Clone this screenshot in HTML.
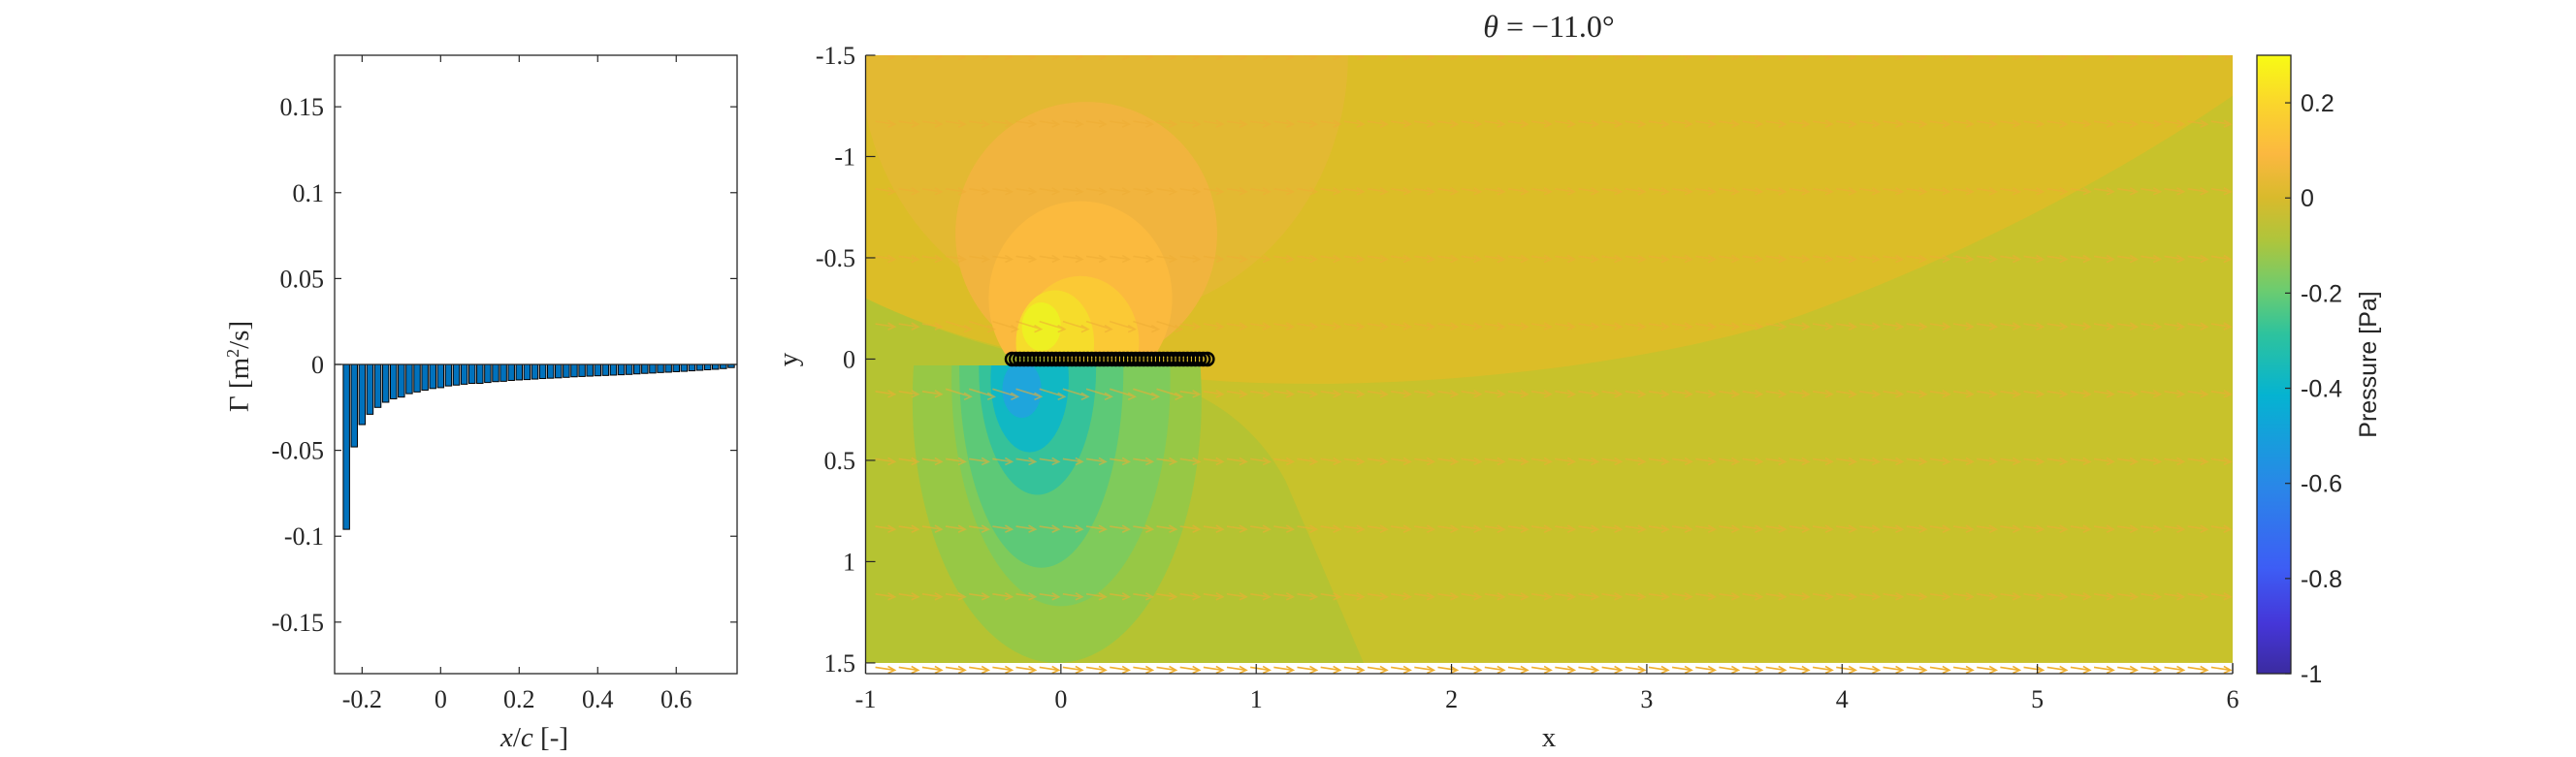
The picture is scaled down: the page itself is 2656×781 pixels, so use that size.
<!DOCTYPE html>
<html><head><meta charset="utf-8"><style>
html,body{margin:0;padding:0;background:#fff;}
svg{display:block;}
.serif{font-family:"Liberation Serif",serif;fill:#262626;}
.sans{font-family:"Liberation Sans",sans-serif;fill:#262626;}
</style></head><body>
<svg id="fig" width="2656" height="781" viewBox="0 0 2656 781" xmlns="http://www.w3.org/2000/svg">
<defs>
<linearGradient id="parula" x1="0" y1="1" x2="0" y2="0">
<stop offset="0" stop-color="#3b2ba0"/>
<stop offset="0.08" stop-color="#4536d8"/>
<stop offset="0.17" stop-color="#3d5df5"/>
<stop offset="0.3" stop-color="#2a86e8"/>
<stop offset="0.45" stop-color="#05b3d1"/>
<stop offset="0.55" stop-color="#2ec39d"/>
<stop offset="0.62" stop-color="#6ccc70"/>
<stop offset="0.7" stop-color="#aec53c"/>
<stop offset="0.77" stop-color="#d9ba2c"/>
<stop offset="0.84" stop-color="#fbb840"/>
<stop offset="0.92" stop-color="#fad52c"/>
<stop offset="1" stop-color="#f8fb14"/>
</linearGradient>
<clipPath id="fieldclip"><rect x="892.5" y="57" width="1409.5" height="627"/></clipPath>
<clipPath id="upperclip"><rect x="892.5" y="57" width="1409.5" height="308"/></clipPath>
<clipPath id="lowerclip"><rect x="892.5" y="377" width="1409.5" height="307"/></clipPath>
<clipPath id="stripclip"><rect x="892.5" y="684" width="1409.5" height="11"/></clipPath>
</defs>
<g id="left"></g>
<g id="right"></g>
<g id="cbar"></g>
</svg>
<script>
// ---------- Left bar chart data ----------
const barX = [];
for (let i = 0; i < 50; i++) barX.push(+(-0.24 + 0.02 * i).toFixed(2));
const gammaValues = [-0.096,-0.048,-0.035,-0.029,-0.025,-0.022,-0.020,-0.019,-0.017,-0.016,
 -0.015,-0.014,-0.0135,-0.0125,-0.012,-0.0115,-0.011,-0.011,-0.0105,-0.010,
 -0.0098,-0.0093,-0.009,-0.0088,-0.0085,-0.0082,-0.008,-0.0078,-0.0075,-0.0072,
 -0.007,-0.0068,-0.0066,-0.0064,-0.0062,-0.006,-0.0058,-0.0055,-0.0052,-0.005,
 -0.0047,-0.0045,-0.0042,-0.004,-0.0037,-0.0034,-0.0031,-0.0028,-0.0024,-0.0018];
const leftYTicks = [-0.15,-0.1,-0.05,0,0.05,0.1,0.15];
const leftYTickLabels = ["-0.15","-0.1","-0.05","0","0.05","0.1","0.15"];
const leftXTicks = [-0.2,0,0.2,0.4,0.6];
const leftXTickLabels = ["-0.2","0","0.2","0.4","0.6"];

// ---------- Right contour axes ----------
const rightXTicks = [-1,0,1,2,3,4,5,6];
const rightXTickLabels = ["-1","0","1","2","3","4","5","6"];
const rightYTicks = [-1.5,-1,-0.5,0,0.5,1,1.5];
const rightYTickLabels = ["-1.5","-1","-0.5","0","0.5","1","1.5"];
const airfoilX = [];
for (let i = 0; i < 50; i++) airfoilX.push(-0.25 + i * (1.0 / 49));
const arrowRowsY = [-1.5,-1.1667,-0.8333,-0.5,-0.1667,0.1667,0.5,0.8333,1.1667,1.5];

// ---------- Colorbar ----------
const cbarTicks = [-1,-0.8,-0.6,-0.4,-0.2,0,0.2];
const cbarTickLabels = ["-1","-0.8","-0.6","-0.4","-0.2","0","0.2"];

const NS = "http://www.w3.org/2000/svg";
function mk(tag, attrs, parent) {
  const e = document.createElementNS(NS, tag);
  for (const k in attrs) e.setAttribute(k, attrs[k]);
  parent.appendChild(e);
  return e;
}

// ===== Left chart =====
const L = {x0:345, x1:760, y0:57, y1:695, xmin:-0.27, xmax:0.755, ymin:-0.18, ymax:0.18};
const lx = v => L.x0 + (v - L.xmin) / (L.xmax - L.xmin) * (L.x1 - L.x0);
const ly = v => L.y1 - (v - L.ymin) / (L.ymax - L.ymin) * (L.y1 - L.y0);
const gL = document.getElementById('left');


let bg = mk('rect', {x:L.x0, y:L.y0, width:L.x1-L.x0, height:L.y1-L.y0, fill:'#fff'}, gL);


barX.forEach((xv, i) => {
  const v = gammaValues[i];
  const xa = lx(xv - 0.008), xb = lx(xv + 0.008);
  const ya = ly(Math.max(0, v)), yb = ly(Math.min(0, v));
  const r = mk('rect', {x:xa, y:ya, width:xb-xa, height:Math.max(0.5, yb-ya), fill:'#0072bd', stroke:'#000', 'stroke-width':1}, gL);
  
  
});
mk('line', {x1:L.x0, x2:L.x1, y1:ly(0), y2:ly(0), stroke:'#262626', 'stroke-width':1.3}, gL);
let box = mk('rect', {x:L.x0, y:L.y0, width:L.x1-L.x0, height:L.y1-L.y0, fill:'none', stroke:'#262626', 'stroke-width':1.3}, gL);


leftYTicks.forEach((t, i) => {
  const y = ly(t);
  mk('line', {x1:L.x0, x2:L.x0+7, y1:y, y2:y, stroke:'#262626', 'stroke-width':1.2}, gL);
  mk('line', {x1:L.x1, x2:L.x1-7, y1:y, y2:y, stroke:'#262626', 'stroke-width':1.2}, gL);
  const tx = mk('text', {x:L.x0-11, y:y+9, 'text-anchor':'end', 'font-size':26, class:'serif'}, gL);
  tx.textContent = leftYTickLabels[i];
  
  
});
leftXTicks.forEach((t, i) => {
  const x = lx(t);
  mk('line', {x1:x, x2:x, y1:L.y1, y2:L.y1-7, stroke:'#262626', 'stroke-width':1.2}, gL);
  mk('line', {x1:x, x2:x, y1:L.y0, y2:L.y0+7, stroke:'#262626', 'stroke-width':1.2}, gL);
  const tx = mk('text', {x:x, y:730, 'text-anchor':'middle', 'font-size':26, class:'serif'}, gL);
  tx.textContent = leftXTickLabels[i];
  
  
});
let xl = mk('text', {x:551, y:770, 'text-anchor':'middle', 'font-size':29, class:'serif'}, gL);
xl.innerHTML = '<tspan font-style="italic">x</tspan>/<tspan font-style="italic">c</tspan> [-]';


let yl = mk('text', {x:0, y:0, 'text-anchor':'middle', 'font-size':29, class:'serif', transform:'translate(256,378) rotate(-90)'}, gL);
yl.innerHTML = 'Γ [m<tspan dy="-10" font-size="18">2</tspan><tspan dy="10">/s]</tspan>';



// ===== Right contour chart =====
const R = {x0:892.5, x1:2302, y0:57, y1:695, xmin:-1, xmax:6, ymin:-1.5, ymax:1.553};
const rx = v => R.x0 + (v - R.xmin) / (R.xmax - R.xmin) * (R.x1 - R.x0);
const ry = v => R.y0 + (v - R.ymin) / (R.ymax - R.ymin) * (R.y1 - R.y0);
const sx = (R.x1 - R.x0) / (R.xmax - R.xmin), sy = (R.y1 - R.y0) / (R.ymax - R.ymin);
const gR = document.getElementById('right');


const field = mk('g', {'clip-path':'url(#fieldclip)'}, gR);


mk('rect', {x:R.x0, y:R.y0, width:R.x1-R.x0, height:ry(1.5)-R.y0, fill:'#c8c22b'}, field);
mk('path', {d:`M${rx(-1)},${ry(-1.5)} L${rx(-1)},${ry(-0.3)} Q${rx(-0.4)},${ry(-0.02)} ${rx(0.5)},${ry(0.08)} C${rx(1.5)},${ry(0.2)} ${rx(3)},${ry(0.05)} ${rx(3.8)},${ry(-0.22)} C${rx(4.6)},${ry(-0.5)} ${rx(5.4)},${ry(-0.9)} ${rx(6)},${ry(-1.3)} L${rx(6)},${ry(-1.5)}Z`, fill:'#dcbd27'}, field);
mk('path', {d:`M${rx(-1)},${ry(-0.3)} Q${rx(-0.4)},${ry(-0.02)} ${rx(0.3)},${ry(0.06)} Q${rx(0.9)},${ry(0.15)} ${rx(1.15)},${ry(0.6)} L${rx(1.55)},${ry(1.5)} L${rx(-1)},${ry(1.5)}Z`, fill:'#b5c332'}, field);
const upper = mk('g', {'clip-path':'url(#upperclip)'}, field);
const lower = mk('g', {'clip-path':'url(#lowerclip)'}, field);
function ell(g, cx, cy, ax, ay, fill) {
  mk('ellipse', {cx:rx(cx), cy:ry(cy), rx:ax*sx, ry:ay*sy, fill:fill}, g);
}
ell(upper, 0.22,-1.5,1.25,1.3,'#e3b932');
ell(upper, 0.13,-0.62,0.67,0.65,'#f1b43e');
ell(upper, 0.1,-0.3,0.47,0.48,'#fbba3e');
ell(upper, 0.1,-0.08,0.3,0.33,'#fbc935');
ell(upper, -0.03,-0.08,0.2,0.26,'#f6dc2b');
ell(upper, -0.1,-0.16,0.1,0.12,'#eef022');
ell(lower, -0.02,0.2,0.74,1.3,'#97c845');
ell(lower, 0.0,0.1,0.56,1.12,'#7fcb5b');
ell(lower, -0.1,0.05,0.42,0.98,'#5dc977');
ell(lower, -0.12,0.05,0.3,0.62,'#35c29a');
ell(lower, -0.16,0.1,0.2,0.36,'#10b8c4');
ell(lower, -0.2,0.15,0.1,0.14,'#1fa5dc');
// quiver rows
const quiv = mk('g', {stroke:'#eeae35', 'stroke-width':1.6, fill:'none', opacity:0.6, 'clip-path':'url(#fieldclip)'}, gR);


const strip = mk('g', {stroke:'#f0b030', 'stroke-width':1.6, fill:'none', 'clip-path':'url(#stripclip)'}, gR);
arrowRowsY.forEach(yv => {
  const isStrip = yv >= 1.5;
  for (let xv = -0.95; xv < 5.95; xv += 0.12) {
    const x = rx(xv), y = ry(yv) + (isStrip ? 6 : 0);
    const near = Math.abs(yv) < 0.4 && xv > -0.7 && xv < 0.6;
    const len = near ? 26 : 20, dy = near ? 8 : 3;
    mk('path', {d:`M${x},${y-dy/2} L${x+len},${y+dy/2} M${x+len-7},${y+dy/2-4} L${x+len},${y+dy/2} L${x+len-7},${y+dy/2+3}`}, isStrip ? strip : quiv);
  }
});
// airfoil
const foil = mk('g', {fill:'none', stroke:'#000', 'stroke-width':2.5}, gR);


airfoilX.forEach(xv => { mk('circle', {cx:rx(xv), cy:ry(0), r:6.5}, foil); });
// axes lines & ticks
mk('line', {x1:R.x0, x2:R.x0, y1:R.y0, y2:R.y1, stroke:'#262626', 'stroke-width':1.3}, gR);
let rbox = mk('line', {x1:R.x0, x2:R.x1, y1:R.y1, y2:R.y1, stroke:'#262626', 'stroke-width':1.3}, gR);


mk('line', {x1:R.x1, x2:R.x1, y1:ry(1.5), y2:R.y1, stroke:'#262626', 'stroke-width':1.3}, gR);
rightXTicks.forEach((t, i) => {
  const x = rx(t);
  mk('line', {x1:x, x2:x, y1:R.y1, y2:R.y1-10, stroke:'#262626', 'stroke-width':1.2}, gR);
  const tx = mk('text', {x:x, y:730, 'text-anchor':'middle', 'font-size':26, class:'serif'}, gR);
  tx.textContent = rightXTickLabels[i];
  
  
});
rightYTicks.forEach((t, i) => {
  const y = ry(t);
  mk('line', {x1:R.x0, x2:R.x0+10, y1:y, y2:y, stroke:'#262626', 'stroke-width':1.2}, gR);
  const tx = mk('text', {x:882, y:y+9, 'text-anchor':'end', 'font-size':26, class:'serif'}, gR);
  tx.textContent = rightYTickLabels[i];
  
  
});
let rxl = mk('text', {x:1597, y:770, 'text-anchor':'middle', 'font-size':29, class:'serif'}, gR);
rxl.textContent = 'x';


let ryl = mk('text', {x:0, y:0, 'text-anchor':'middle', 'font-size':29, class:'serif', transform:'translate(822,371) rotate(-90)'}, gR);
ryl.textContent = 'y';


let ttl = mk('text', {x:1597, y:38, 'text-anchor':'middle', 'font-size':32, class:'serif'}, gR);
ttl.innerHTML = '<tspan font-style="italic">θ</tspan> = −11.0°';



// ===== Colorbar =====
const C = {x0:2327, x1:2362, y0:57, y1:695, min:-1, max:0.3};
const cy = v => C.y1 - (v - C.min) / (C.max - C.min) * (C.y1 - C.y0);
const gC = document.getElementById('cbar');


mk('rect', {x:C.x0, y:C.y0, width:C.x1-C.x0, height:C.y1-C.y0, fill:'url(#parula)', stroke:'#262626', 'stroke-width':1.3}, gC);
cbarTicks.forEach((t, i) => {
  const y = cy(t);
  mk('line', {x1:C.x1, x2:C.x1-6, y1:y, y2:y, stroke:'#262626', 'stroke-width':1.2}, gC);
  const tx = mk('text', {x:2372, y:y+9, 'font-size':25, class:'sans'}, gC);
  tx.textContent = cbarTickLabels[i];
  
  
});
let cl = mk('text', {x:0, y:0, 'text-anchor':'middle', 'font-size':25, class:'sans', transform:'translate(2450,376) rotate(-90)'}, gC);
cl.textContent = 'Pressure [Pa]';


</script>
</body></html>
